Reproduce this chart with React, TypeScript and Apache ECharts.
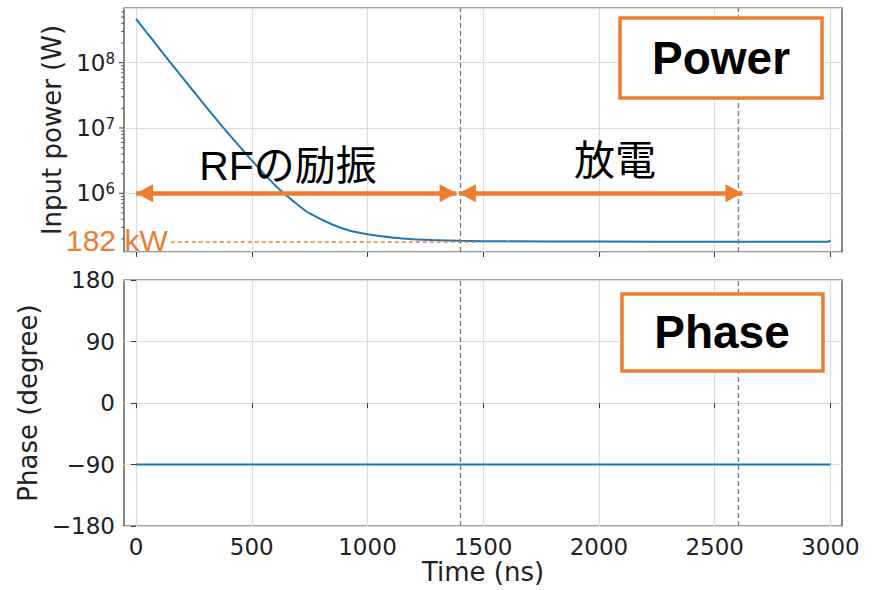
import React, { useEffect, useRef } from 'react';
import * as echarts from 'echarts';

// ---- data ----
const timeNs = [0, 50, 100, 150, 200, 250, 300, 375, 450, 500, 550, 620, 700, 750, 850, 925, 1000, 1070, 1150, 1280, 1400, 1600, 2000, 2500, 2990, 3000];
const inputPowerW = [4.68e8, 2.79e8, 1.66e8, 9.89e7, 5.96e7, 3.59e7, 2.16e7, 1.03e7, 5.08e6, 3.2e6, 2.04e6, 1.14e6, 6.61e5, 4.91e5, 3.3e5, 2.67e5, 2.36e5, 2.18e5, 2.04e5, 1.92e5, 1.87e5, 1.836e5, 1.82e5, 1.81e5, 1.81e5, 1.9e5];
const phaseTimeNs = [0, 3000];
const phaseDeg = [-90, -90];

const xTicks = [0, 500, 1000, 1500, 2000, 2500, 3000];
const powerMajorTicks = [1e6, 1e7, 1e8];
const powerMinorMantissas = [2, 3, 4, 5, 6, 7, 8, 9];
const powerMinorDecades = [1e5, 1e6, 1e7, 1e8];
const phaseTicks = [-180, -90, 0, 90, 180];

const stageBoundariesNs = [1400, 2600];
const rfArrowNs = [0, 1385];
const dischargeArrowNs = [1395, 2620];
const arrowLevelW = 1e6;
const steadyPowerW = 182000;
const steadyLineNs = [150, 1480];

const xMin = -52;
const xMax = 3050;
const powerMin = 1.262e5;
const powerMax = 6.88e8;

const ORANGE = '#ED7D31';
const BLUE = '#1f77b4';
const TXT = '#222222';
const FRAME = '#3a3a3a';
const GRIDLINE = '#dcdcdc';
const DEJAVU = 'DejaVu Sans';
const JP = '"Liberation Sans", "Noto Sans CJK JP", sans-serif';

export default function App() {
  const ref = useRef<HTMLDivElement>(null);

  useEffect(() => {
    document.body.style.margin = '0';
    if (!ref.current) return;
    const chart = echarts.init(ref.current, undefined, { renderer: 'svg' });

    const powerData = timeNs.map((t, i) => [t, inputPowerW[i]]);
    const phaseData = phaseTimeNs.map((t, i) => [t, phaseDeg[i]]);

    const tickMarks: number[][] = [];
    powerMajorTicks.forEach(v => tickMarks.push([xMin, v, 5]));
    powerMinorDecades.forEach(d =>
      powerMinorMantissas.forEach(m => {
        const v = m * d;
        if (v >= powerMin && v <= powerMax) tickMarks.push([xMin, v, 3]);
      })
    );

    const vLine = (x: number) => ({ xAxis: x });
    const dashedGray = { color: '#7a7a7a', type: [5, 3] as any, width: 1.3 };

    const arrowEnd = (t: number) => ({
      coord: [t, arrowLevelW],
      symbol: 'triangle',
      symbolSize: [18, 17],
      symbolOffset: [0, 8.5],
    });

    const powFmt = (v: number) => {
      const e = Math.log10(v);
      const r = Math.round(e);
      if (Math.abs(e - r) > 1e-6) return '';
      return '{b|10}{s|' + r + '}';
    };

    const option: any = {
      animation: false,
      backgroundColor: '#ffffff',
      grid: [
        { left: 124, top: 8, width: 718, height: 244, show: true, borderColor: FRAME, borderWidth: 1.2, backgroundColor: 'transparent' },
        { left: 124, top: 280, width: 718, height: 246, show: true, borderColor: FRAME, borderWidth: 1.2, backgroundColor: 'transparent' },
      ],
      xAxis: [
        {
          type: 'value', gridIndex: 0, min: xMin, max: xMax,
          axisLine: { show: false },
          axisTick: { show: true, length: 5, inside: false, customValues: xTicks, lineStyle: { color: FRAME, width: 1 } },
          axisLabel: { show: false, customValues: xTicks },
          splitLine: { show: true, lineStyle: { color: GRIDLINE, width: 1.2 } },
        },
        {
          type: 'value', gridIndex: 1, min: xMin, max: xMax,
          axisLine: { show: false },
          axisTick: { show: true, length: 5, inside: false, customValues: xTicks, lineStyle: { color: FRAME, width: 1 } },
          axisLabel: {
            show: true, customValues: xTicks, fontSize: 23, fontFamily: DEJAVU, color: TXT, margin: 9,
            formatter: (v: number) => String(v),
          },
          splitLine: { show: true, lineStyle: { color: GRIDLINE, width: 1.2 } },
          name: 'Time (ns)', nameLocation: 'middle', nameGap: 33,
          nameTextStyle: { fontSize: 26, fontFamily: DEJAVU, color: TXT },
        },
      ],
      yAxis: [
        {
          type: 'log', logBase: 10, gridIndex: 0, min: powerMin, max: powerMax,
          axisLine: { show: false },
          axisTick: { show: false },
          axisLabel: {
            show: true, showMinLabel: false, showMaxLabel: false, margin: 9,
            formatter: powFmt,
            rich: {
              b: { fontSize: 23, fontFamily: DEJAVU, color: TXT, verticalAlign: 'bottom', lineHeight: 23 },
              s: { fontSize: 15, fontFamily: DEJAVU, color: TXT, verticalAlign: 'top', lineHeight: 15, padding: [0, 0, 13, 0] },
            },
          },
          splitLine: { show: true, lineStyle: { color: GRIDLINE, width: 1.2 } },
          minorTick: { show: false },
          name: 'Input power (W)', nameLocation: 'middle', nameGap: 55, nameRotate: 90,
          nameTextStyle: { fontSize: 26, fontFamily: DEJAVU, color: TXT },
        },
        {
          type: 'value', gridIndex: 1, min: phaseTicks[0], max: phaseTicks[phaseTicks.length - 1], interval: 90,
          axisLine: { show: false },
          axisTick: { show: true, length: 5, inside: false, lineStyle: { color: FRAME, width: 1 } },
          axisLabel: {
            show: true, fontSize: 23, fontFamily: DEJAVU, color: TXT, margin: 9,
            formatter: (v: number) => (v < 0 ? '\u2212' + Math.abs(v) : String(v)),
          },
          splitLine: { show: true, lineStyle: { color: GRIDLINE, width: 1.2 } },
          name: 'Phase (degree)', nameLocation: 'middle', nameGap: 80, nameRotate: 90,
          nameTextStyle: { fontSize: 26, fontFamily: DEJAVU, color: TXT },
        },
      ],
      series: [
        {
          name: 'Input power', type: 'line', xAxisIndex: 0, yAxisIndex: 0,
          data: powerData, showSymbol: false, smooth: 0.2, z: 3,
          lineStyle: { color: BLUE, width: 2 }, itemStyle: { color: BLUE },
          markLine: {
            silent: true, symbol: ['none', 'none'], label: { show: false },
            emphasis: { disabled: true },
            data: [
              ...stageBoundariesNs.map(x => ({ ...vLine(x), lineStyle: dashedGray })),
              [
                { coord: [steadyLineNs[0], steadyPowerW], lineStyle: { color: ORANGE, type: [4, 3], width: 1.5 } },
                { coord: [steadyLineNs[1], steadyPowerW] },
              ],
              [
                { ...arrowEnd(rfArrowNs[0]), lineStyle: { color: ORANGE, width: 4.5, type: 'solid' }, itemStyle: { color: ORANGE } },
                arrowEnd(rfArrowNs[1]),
              ],
              [
                { ...arrowEnd(dischargeArrowNs[0]), lineStyle: { color: ORANGE, width: 4.5, type: 'solid' }, itemStyle: { color: ORANGE } },
                arrowEnd(dischargeArrowNs[1]),
              ],
            ],
          },
        },
        {
          name: 'ticks', type: 'custom', xAxisIndex: 0, yAxisIndex: 0, silent: true, clip: false, z: 4,
          data: tickMarks,
          renderItem: (params: any, api: any) => {
            const p = api.coord([api.value(0), api.value(1)]);
            const len = api.value(2);
            return {
              type: 'line',
              shape: { x1: p[0] - len, y1: p[1], x2: p[0], y2: p[1] },
              style: { stroke: FRAME, lineWidth: len > 4 ? 1 : 0.8 },
            };
          },
        },
        {
          name: 'Phase', type: 'line', xAxisIndex: 1, yAxisIndex: 1,
          data: phaseData, showSymbol: false, z: 3,
          lineStyle: { color: BLUE, width: 2 }, itemStyle: { color: BLUE },
          markLine: {
            silent: true, symbol: ['none', 'none'], label: { show: false },
            emphasis: { disabled: true },
            data: stageBoundariesNs.map(x => ({ ...vLine(x), lineStyle: dashedGray })),
          },
        },
      ],
      graphic: [
        { type: 'rect', z: 100, shape: { x: 620, y: 18, width: 202, height: 80 }, style: { fill: '#ffffff', stroke: ORANGE, lineWidth: 3.5 } },
        { type: 'text', z: 101, x: 721, y: 58, style: { text: 'Power', fill: '#000', font: 'bold 46px "Liberation Sans", Arial, sans-serif', align: 'center', verticalAlign: 'middle' } },
        { type: 'rect', z: 100, shape: { x: 622, y: 294, width: 201, height: 77 }, style: { fill: '#ffffff', stroke: ORANGE, lineWidth: 3.5 } },
        { type: 'text', z: 101, x: 722, y: 332, style: { text: 'Phase', fill: '#000', font: 'bold 46px "Liberation Sans", Arial, sans-serif', align: 'center', verticalAlign: 'middle' } },
        { type: 'text', z: 101, x: 288, y: 166, style: { text: 'RFの励振', fill: '#000', font: '41px ' + JP, align: 'center', verticalAlign: 'middle' } },
        { type: 'text', z: 101, x: 615, y: 161, style: { text: '放電', fill: '#000', font: '41px ' + JP, align: 'center', verticalAlign: 'middle' } },
        { type: 'text', z: 101, x: 66, y: 240, style: { text: '182 kW', fill: ORANGE, font: '30px "Liberation Sans", Arial, sans-serif', align: 'left', verticalAlign: 'middle' } },
      ],
    };

    chart.setOption(option);
    return () => chart.dispose();
  }, []);

  return <div ref={ref} style={{ width: 877, height: 590 }} />;
}
